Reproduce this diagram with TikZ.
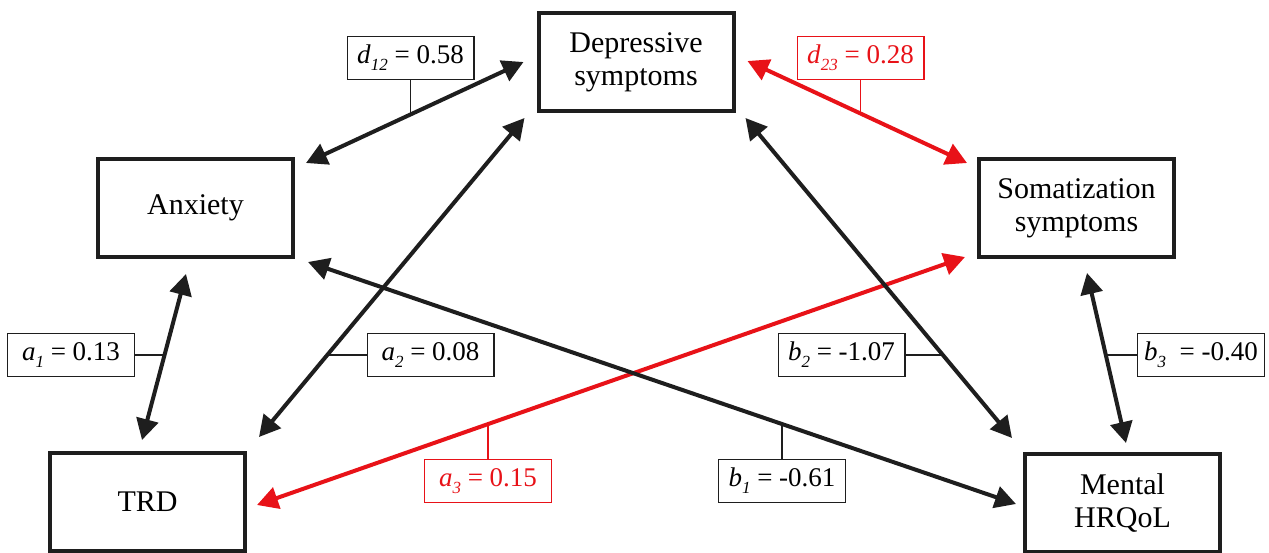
\documentclass[tikz,border=0pt]{standalone}
\usepackage{fontspec}
\setmainfont{Liberation Serif}
\usetikzlibrary{arrows.meta,calc}
\definecolor{myred}{RGB}{232,18,24}
\definecolor{ink}{RGB}{30,30,30}
\newcommand\lsub[1]{\raisebox{-7pt}{\fontsize{17}{17}\selectfont\itshape #1}}
\begin{document}
\begin{tikzpicture}[x=1pt,y=-1pt,
  var/.style={draw=ink, line width=4pt, minimum width=195pt, minimum height=98pt, inner sep=0pt, align=center, font=\fontsize{30}{33}\selectfont},
  lab/.style={draw=ink, line width=1.3pt, minimum width=126.7pt, minimum height=42.7pt, inner sep=0pt, font=\fontsize{27}{30}\selectfont},
  redlab/.style={lab, draw=myred, text=myred},
  conn/.style={line width=4pt, draw=ink, {Triangle[length=21pt,width=22pt]}-{Triangle[length=21pt,width=22pt]}},
  redconn/.style={conn, draw=myred},
  leader/.style={line width=1.3pt, draw=ink},
  redleader/.style={leader, draw=myred}]
\useasboundingbox (0,0) rectangle (1269,552);
\fill[white] (0,0) rectangle (1269,552);

% variables
\node[var] (dep) at (636,62) {Depressive\\symptoms};
\node[var] (anx) at (195.5,208) {Anxiety};
\node[var] (som) at (1076.5,208) {Somatization\\symptoms};
\node[var] (trd) at (147.5,502) {TRD};
\node[var] (men) at (1122.5,503) {Mental\\HRQoL};

% red connectors
\draw[redconn] ($(dep.east)+(12,-1)$) -- coordinate[pos=0.514] (pd23) ($(som.north west)+(-10,6)$);
\draw[redconn] ($(trd.east)+(10,3)$) -- coordinate[pos=0.326] (pa3) ($(som.south west)+(-12,-2)$);

% black connectors
\draw[conn] ($(anx.north east)+(11,6)$) -- coordinate[pos=0.482] (pd12) ($(dep.west)+(-13,0)$);
\draw[conn] ($(dep.south west)+(-12,5)$) -- coordinate[pos=0.743] (pa2) ($(trd.north east)+(12,-14)$);
\draw[conn] ($(dep.south east)+(10,5)$) -- coordinate[pos=0.743] (pb2) ($(men.north west)+(-11,-14)$);
\draw[conn] ($(anx.south)+(-9.5,15)$) -- coordinate[pos=0.488] (pa1) ($(trd.north)+(-5.5,-11)$);
\draw[conn] ($(som.south)+(10.5,14)$) -- coordinate[pos=0.485] (pb3) ($(men.north)+(3.5,-9)$);
\draw[conn] ($(anx.south east)+(13,3)$) -- coordinate[pos=0.6695] (pb1) ($(men.west)+(-7,1)$);

% labels
\node[lab] (ld12) at (410.5,58) {\textit{d}\lsub{12} = 0.58};
\node[redlab] (ld23) at (860.5,58) {\textit{d}\lsub{23} = 0.28};
\node[lab] (la1) at (71,355) {\textit{a}\lsub{1} = 0.13};
\node[lab] (la2) at (430.5,355) {\textit{a}\lsub{2} = 0.08};
\node[lab] (lb2) at (841.5,355) {\textit{b}\lsub{2} = -1.07};
\node[lab] (lb3) at (1201,355) {\textit{b}\lsub{3}\ \ = -0.40};
\node[lab] (lb1) at (782,481) {\textit{b}\lsub{1} = -0.61};
\node[redlab] (la3) at (488,481) {\textit{a}\lsub{3} = 0.15};

% leaders
\draw[leader] (ld12.south) -- (ld12.south |- pd12);
\draw[redleader] (ld23.south) -- (ld23.south |- pd23);
\draw[leader] (la1.east) -- (la1.east -| pa1);
\draw[leader] (la2.west) -- (la2.west -| pa2);
\draw[leader] (lb2.east) -- (lb2.east -| pb2);
\draw[leader] (lb3.west) -- (lb3.west -| pb3);
\draw[leader] (lb1.north) -- (lb1.north |- pb1);
\draw[redleader] (la3.north) -- (la3.north |- pa3);
\end{tikzpicture}
\end{document}
